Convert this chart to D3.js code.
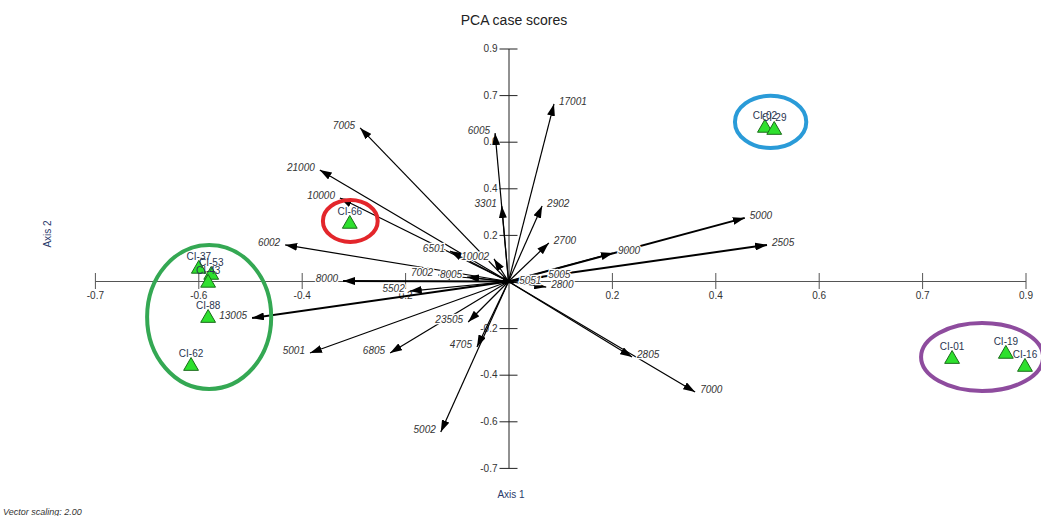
<!DOCTYPE html>
<html>
  <head>
    <style>
      body { margin: 0; background: #fff; font-family: Arial, Helvetica, sans-serif; }
      .tick text { font-size: 10px; fill: #333; }
      .axis path, .axis line { stroke: #555; }
      .vec-label { font-size: 10px; font-style: italic; fill: #333; stroke: #fff; stroke-width: 2.5px; paint-order: stroke; }
      .case-label { font-size: 10px; fill: #2a3550; }
    </style>
  </head>
  <body>
    <script src="https://d3js.org/d3.v7.min.js"></script>
    <script>
      // variable vectors (axis units)
      const vectorNames = ['17001','6005','3301','2902','2700','5000','2505','9000','5005','2800','5051',
        '2805','7000','5002','4705','23505','6805','5001','13005','5502','8000','7002','8005',
        '6002','10000','21000','7005','6501','10002'];
      const vectorX = [0.088,-0.026,-0.013,0.065,0.078,0.457,0.500,0.202,0.067,0.073,0.011,
        0.239,0.361,-0.131,-0.061,-0.078,-0.229,-0.384,-0.496,-0.191,-0.320,-0.136,-0.080,
        -0.432,-0.326,-0.365,-0.287,-0.113,-0.028];
      const vectorY = [0.762,0.637,0.324,0.324,0.165,0.273,0.157,0.122,0.019,-0.024,-0.006,
        -0.324,-0.474,-0.646,-0.281,-0.174,-0.307,-0.307,-0.157,-0.041,0.002,0.028,0.019,
        0.157,0.358,0.479,0.659,0.131,0.097];
      const thickVectors = ['13005','5000','2505','8000'];

      // case scores
      const caseNames = ['CI-66','CI-37','CI-53','CI-43','CI-88','CI-62','CI-02','CI-29','CI-01','CI-19','CI-16'];
      const caseX = [-0.307,-0.599,-0.575,-0.581,-0.581,-0.614,0.496,0.514,0.858,0.962,0.999];
      const caseY = [0.247,0.054,0.028,-0.006,-0.157,-0.363,0.659,0.650,-0.333,-0.311,-0.367];

      // highlighted groups (ellipses)
      const groupColors = ['#e3262b','#2a9bd8','#34a853','#8e4c9e'];
      const groupCx = [-0.306,0.507,-0.579,0.916];
      const groupCy = [0.260,0.685,-0.152,-0.324];
      const groupRx = [0.053,0.069,0.120,0.118];
      const groupRy = [0.090,0.112,0.309,0.146];

      // axis ticks
      const xTickValues = [-0.8,-0.6,-0.4,-0.2,0.2,0.4,0.6,0.8,1.0];
      const xTickLabels = ['-0.7','-0.6','-0.4','0.2','0.2','0.4','0.6','0.7','0.9'];
      const yTickValues = [-0.8,-0.6,-0.4,-0.2,0.2,0.4,0.6,0.8,1.0];
      const yTickLabels = ['-0.7','-0.6','-0.4','-0.2','0.2','0.4','0.6','0.7','0.9'];

      const width = 1041, height = 516;

      const x = d3.scaleLinear().domain([-0.8, 1.0]).range([94.9, 1025.5]);
      const y = d3.scaleLinear().domain([-0.8, 1.0]).range([467.9, 48.5]);

      const svg = d3.select('body').append('svg')
        .attr('width', width)
        .attr('height', height);

      svg.append('text')
        .attr('x', 514).attr('y', 25)
        .attr('text-anchor', 'middle')
        .style('font-size', '14px').style('fill', '#222')
        .text('PCA case scores');

      // axes through origin
      const xAxis = d3.axisBottom(x)
        .tickValues(xTickValues)
        .tickSizeOuter(0)
        .tickFormat((d, i) => xTickLabels[i]);
      const gx = svg.append('g')
        .attr('class', 'axis')
        .attr('transform', 'translate(0,' + (y(0) - 0.5) + ')')
        .call(xAxis);
      gx.selectAll('.tick line').attr('y1', -8).attr('y2', 8);
      gx.selectAll('.tick text').attr('y', 11);

      const yAxis = d3.axisLeft(y)
        .tickValues(yTickValues)
        .tickSizeOuter(0)
        .tickFormat((d, i) => yTickLabels[i]);
      const gy = svg.append('g')
        .attr('class', 'axis')
        .attr('transform', 'translate(' + x(0) + ',0)')
        .call(yAxis);
      gy.selectAll('.tick line').attr('x1', -9).attr('x2', 9);
      gy.selectAll('.tick text').attr('x', -11);
      gy.selectAll('path.domain, .tick line').style('stroke', '#222');

      svg.append('text')
        .attr('x', 511).attr('y', 498)
        .attr('text-anchor', 'middle')
        .style('font-size', '10px').style('fill', '#2a3a6a')
        .text('Axis 1');

      svg.append('text')
        .attr('transform', 'translate(51,234) rotate(-90)')
        .attr('text-anchor', 'middle')
        .style('font-size', '10px').style('fill', '#2a3a6a')
        .text('Axis 2');

      svg.append('text')
        .attr('x', 3).attr('y', 515)
        .style('font-size', '9px').style('font-style', 'italic').style('fill', '#333')
        .text('Vector scaling: 2.00');

      // arrow marker
      svg.append('defs').append('marker')
        .attr('id', 'head')
        .attr('markerUnits', 'userSpaceOnUse')
        .attr('viewBox', '0 0 12 8')
        .attr('refX', 12).attr('refY', 4)
        .attr('markerWidth', 12).attr('markerHeight', 8)
        .attr('orient', 'auto')
        .append('path')
        .attr('d', 'M0,0 L12,4 L0,8 Z')
        .attr('fill', '#000');

      const vectors = vectorNames.map((n, i) => ({ name: n, vx: vectorX[i], vy: vectorY[i] }));

      svg.append('g').selectAll('line')
        .data(vectors)
        .join('line')
        .attr('x1', x(0)).attr('y1', y(0))
        .attr('x2', d => x(d.vx))
        .attr('y2', d => y(d.vy))
        .attr('stroke', '#000')
        .attr('stroke-width', d => thickVectors.includes(d.name) ? 2 : 1.2)
        .attr('marker-end', 'url(#head)');

      svg.append('g').selectAll('text')
        .data(vectors)
        .join('text')
        .attr('class', 'vec-label')
        .attr('x', d => x(d.vx) + (d.vx < 0 ? -5 : 5))
        .attr('y', d => y(d.vy) + 1)
        .attr('text-anchor', d => d.vx < 0 ? 'end' : 'start')
        .text(d => d.name);

      // group ellipses
      svg.append('g').selectAll('ellipse')
        .data(groupColors)
        .join('ellipse')
        .attr('cx', (d, i) => x(groupCx[i]))
        .attr('cy', (d, i) => y(groupCy[i]))
        .attr('rx', (d, i) => x(groupRx[i]) - x(0))
        .attr('ry', (d, i) => y(0) - y(groupRy[i]))
        .attr('fill', 'none')
        .attr('stroke', d => d)
        .attr('stroke-width', 4);

      // cases
      const cases = caseNames.map((n, i) => ({ name: n, cx: caseX[i], cy: caseY[i] }));
      const tri = d3.symbol().type(d3.symbolTriangle).size(95);

      const caseG = svg.append('g').selectAll('g')
        .data(cases)
        .join('g')
        .attr('transform', d => 'translate(' + x(d.cx) + ',' + y(d.cy) + ')');

      caseG.append('text')
        .attr('class', 'case-label')
        .attr('y', -9)
        .attr('text-anchor', 'middle')
        .text(d => d.name);

      caseG.append('path')
        .attr('d', tri)
        .attr('fill', '#2ee02e')
        .attr('stroke', '#1a6b1a')
        .attr('stroke-width', 1);
    </script>
  </body>
</html>
